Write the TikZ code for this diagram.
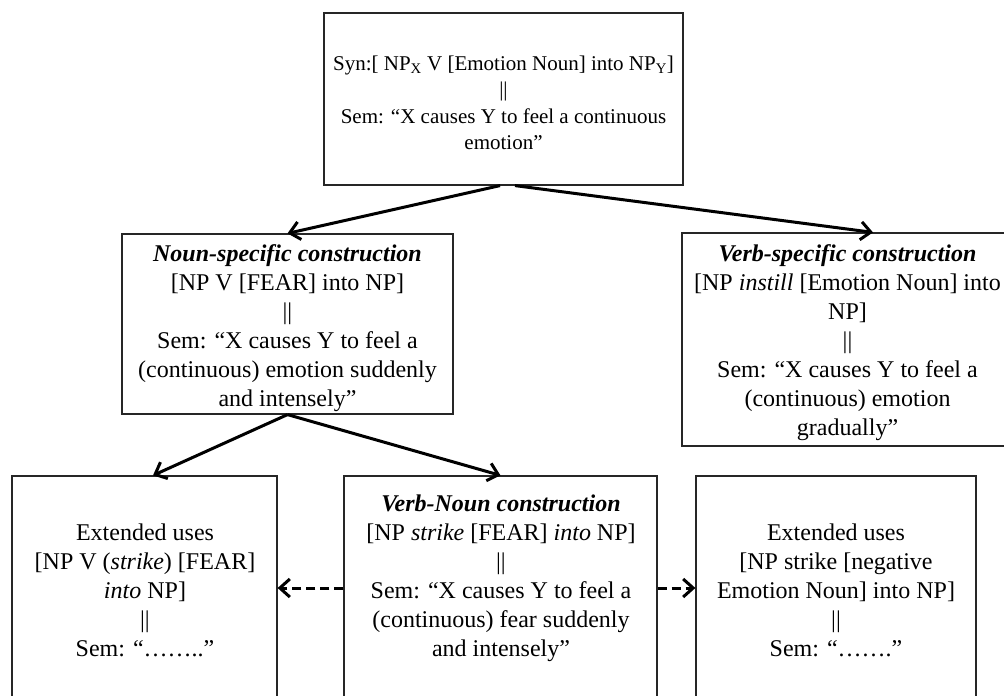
\documentclass[tikz,border=0pt]{standalone}
\usepackage{fontspec}
\setmainfont{Liberation Serif}
\usetikzlibrary{arrows.meta}

\begin{document}
\begin{tikzpicture}[x=1pt,y=-1pt,
  cbox/.style={draw=black!85, line width=1.2pt, rectangle, inner sep=0pt},
  ctext/.style={align=center, inner sep=0pt, font=\fontsize{24}{29}\selectfont},
  ctextsmall/.style={align=center, inner sep=0pt, font=\fontsize{21}{26.5}\selectfont},
  link/.style={line width=3pt, -{Straight Barb[length=10pt,width=18pt]}},
  extlink/.style={link, dash pattern=on 9pt off 5pt}
]
\useasboundingbox (0,0) rectangle (1004,696);
\fill[white] (0,0) rectangle (1004,696);
\clip (0,0) rectangle (1004,696);

% boxes
\node[cbox, minimum width=359pt, minimum height=172pt] (top)  at (503.5,99)   {};
\node[cbox, minimum width=331pt, minimum height=180pt] (noun) at (287.5,324)  {};
\node[cbox, minimum width=331pt, minimum height=213pt] (verb) at (847.5,339.5) {};
\node[cbox, minimum width=265pt, minimum height=224pt] (ext1) at (144.5,588)  {};
\node[cbox, minimum width=313pt, minimum height=224pt] (vn)   at (500.5,588)  {};
\node[cbox, minimum width=280pt, minimum height=224pt] (ext2) at (836,588)    {};

% texts
\node[ctextsmall] (toptxt) at (503.5,103) {Syn:[ NP\textsubscript{X} V [Emotion Noun] into NP\textsubscript{Y}]\\ ||\\ Sem: “X causes Y to feel a continuous\\ emotion”};

\node[ctext] (nountxt) at (287.5,328) {\textbf{\textit{Noun-specific construction}}\\ {[}NP V [FEAR] into NP]\\ ||\\ Sem: “X causes Y to feel a\\ (continuous) emotion suddenly\\ and intensely”};

\node[ctext] (verbtxt) at (847.5,343) {\textbf{\textit{Verb-specific construction}}\\ {[}NP \textit{instill} [Emotion Noun] into\\ NP]\\ ||\\ Sem: “X causes Y to feel a\\ (continuous) emotion\\ gradually”};

\node[ctext] (ext1txt) at (145,590) {Extended uses\\ {[}NP V (\textit{strike}) [FEAR]\\ \textit{into} NP]\\ ||\\ Sem: “……..”};

\node[ctext] (vntxt) at (501,578) {\textbf{\textit{Verb-Noun construction}}\\ {[}NP \textit{strike} [FEAR] \textit{into} NP]\\ ||\\ Sem: “X causes Y to feel a\\ (continuous) fear suddenly\\ and intensely”};

\node[ctext] (ext2txt) at (836,590) {Extended uses\\ {[}NP strike [negative\\ Emotion Noun] into NP]\\ ||\\ Sem: “…….”};

% connectors
\draw[link] ([xshift=-3.5pt]top.south) -- (noun.north);
\draw[link] ([xshift=11.5pt]top.south) -- ([xshift=25.5pt]verb.north);
\draw[link] (noun.south) -- ([xshift=8.5pt]ext1.north);
\draw[link] (noun.south) -- (vn.north);
\draw[extlink] (vn.west) -- (ext1.east);
\draw[extlink] (vn.east) -- (ext2.west);
\end{tikzpicture}
\end{document}
